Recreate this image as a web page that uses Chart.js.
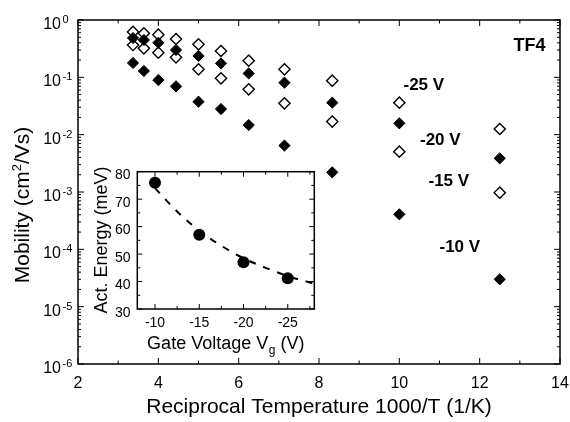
<!DOCTYPE html>
<html><head><meta charset="utf-8">
<script src="https://cdn.jsdelivr.net/npm/chart.js@4"></script>
<style>
html,body{margin:0;padding:0;background:#fff;}
#wrap{position:relative;width:570px;height:422px;overflow:hidden;}
#main{position:absolute;left:0;top:0;}
#inset{position:absolute;left:80px;top:160px;}
</style></head><body>
<div id="wrap"><canvas id="main" width="570" height="422"></canvas><canvas id="inset" width="250" height="200"></canvas></div>
<script>
// ---- data (main) ----
const invTemp = [3.37, 3.64, 4.0, 4.44, 5.0, 5.56, 6.25, 7.14, 8.33, 10.0, 12.5];
const mob25 = [0.62, 0.585, 0.554, 0.466, 0.377, 0.288, 0.195, 0.138, 0.0874, 0.0361, 0.01256];
const mob20 = [0.485, 0.448, 0.40, 0.30, 0.236, 0.175, 0.117, 0.0807, 0.0361, 0.0158, 0.00387];
const mob15 = [0.366, 0.321, 0.269, 0.223, 0.138, 0.096, 0.0618, 0.0352, 0.0169, 0.00505, 0.000972];
const mob10 = [0.178, 0.129, 0.0898, 0.0697, 0.0376, 0.028, 0.0147, 0.00645, 0.0022, 0.000408, 0.0000300];
const seriesLabels = ['-25 V', '-20 V', '-15 V', '-10 V'];
const xTickVals = [2, 4, 6, 8, 10, 12, 14];
const xTickLabels = ['2', '4', '6', '8', '10', '12', '14'];
const yTickExps = [0, -1, -2, -3, -4, -5, -6];
const yTickExpLabels = ['0', '-1', '-2', '-3', '-4', '-5', '-6'];
// ---- data (inset) ----
const gateV = [-10, -15, -20, -25];
const actEnergy = [76, 57, 47, 41.2];
const fitV = [-10, -12.5, -15, -17.5, -20, -22.5, -25, -28];
const fitE = [74, 65.5, 58.5, 53, 48.5, 45, 42, 39.2];
const insetXTicks = [-10, -15, -20, -25];
const insetXTickLabels = ['-10', '-15', '-20', '-25'];
const insetYTicks = [30, 40, 50, 60, 70, 80];

const FONT = '"Liberation Sans", Arial, Helvetica, sans-serif';
function pts(xs, ys){ return xs.map((x,i)=>({x:x, y:ys[i]})); }
function seg(ctx,x1,y1,x2,y2){ ctx.beginPath(); ctx.moveTo(x1,y1); ctx.lineTo(x2,y2); ctx.stroke(); }

const filled = {pointStyle:'rectRot', pointRadius:5.6, pointHoverRadius:5.6, backgroundColor:'#000', borderColor:'#000', pointBorderWidth:1, showLine:false};
const open = {pointStyle:'rectRot', pointRadius:5.6, pointHoverRadius:5.6, backgroundColor:'#fff', borderColor:'#000', pointBorderWidth:1.4, showLine:false};

const mainDeco = {
  id:'mainDeco',
  afterDraw(chart){
    const ctx = chart.ctx, a = chart.chartArea, xs = chart.scales.x, ys = chart.scales.y;
    ctx.save();
    ctx.strokeStyle = '#000'; ctx.fillStyle = '#000'; ctx.lineWidth = 1;
    for (let v = 2; v <= 14; v++) {
      const px = xs.getPixelForValue(v);
      const L = (v % 2 === 0) ? 6 : 3.5;
      seg(ctx, px, a.bottom, px, a.bottom - L);
      seg(ctx, px, a.top, px, a.top + L);
    }
    for (let e = -6; e <= 0; e++) {
      for (let m = 1; m <= 9; m++) {
        const val = m * Math.pow(10, e);
        if (val > 1.0000001) break;
        const py = ys.getPixelForValue(val);
        const L = (m === 1) ? 6 : 3;
        seg(ctx, a.left, py, a.left + L, py);
        seg(ctx, a.right, py, a.right - L, py);
      }
    }
    ctx.lineWidth = 1.5;
    ctx.strokeRect(a.left, a.top, a.right - a.left, a.bottom - a.top);
    // x tick labels
    ctx.font = '16px ' + FONT; ctx.textAlign = 'center'; ctx.textBaseline = 'alphabetic';
    xTickVals.forEach((v, i) => ctx.fillText(xTickLabels[i], xs.getPixelForValue(v), 388));
    // y tick labels 10^n
    yTickExps.forEach((e, i) => {
      const py = ys.getPixelForValue(Math.pow(10, e));
      ctx.font = '16px ' + FONT; ctx.textAlign = 'right';
      ctx.fillText('10', 61, py + 9);
      ctx.font = '11px ' + FONT; ctx.textAlign = 'left';
      ctx.fillText(yTickExpLabels[i], 62.5, py + 3);
    });
    // x title
    ctx.font = '21px ' + FONT; ctx.textAlign = 'center';
    ctx.fillText('Reciprocal Temperature 1000/T (1/K)', (a.left + a.right) / 2, 413);
    // y title with superscript
    ctx.save();
    ctx.translate(28.5, 205); ctx.rotate(-Math.PI / 2);
    ctx.textAlign = 'left';
    ctx.font = '21px ' + FONT;
    const p1 = 'Mobility (cm', p3 = '/Vs)';
    const w1 = ctx.measureText(p1).width, w3 = ctx.measureText(p3).width;
    ctx.font = '13px ' + FONT;
    const w2 = ctx.measureText('2').width;
    let sx = -(w1 + w2 + w3) / 2;
    ctx.font = '21px ' + FONT; ctx.fillText(p1, sx, 0); sx += w1;
    ctx.font = '13px ' + FONT; ctx.fillText('2', sx, -8); sx += w2;
    ctx.font = '21px ' + FONT; ctx.fillText(p3, sx, 0);
    ctx.restore();
    // annotations
    ctx.font = 'bold 18px ' + FONT; ctx.textAlign = 'right';
    ctx.fillText('TF4', 545.5, 50.7);
    ctx.font = 'bold 17px ' + FONT; ctx.textAlign = 'left';
    ctx.fillText(seriesLabels[0], 403.5, 89.5);
    ctx.fillText(seriesLabels[1], 420, 145);
    ctx.fillText(seriesLabels[2], 428.5, 186);
    ctx.fillText(seriesLabels[3], 439.5, 252.3);
    ctx.restore();
  }
};

new Chart(document.getElementById('main'), {
  type: 'scatter',
  data: { datasets: [
    Object.assign({label: seriesLabels[1], data: pts(invTemp, mob20)}, filled),
    Object.assign({label: seriesLabels[3], data: pts(invTemp, mob10)}, filled),
    Object.assign({label: seriesLabels[0], data: pts(invTemp, mob25)}, open),
    Object.assign({label: seriesLabels[2], data: pts(invTemp, mob15)}, open)
  ]},
  options: {
    responsive: false, animation: false, devicePixelRatio: 1,
    layout: { padding: { left: 78, right: 10, top: 20, bottom: 58 } },
    plugins: { legend: { display: false }, tooltip: { enabled: false } },
    scales: {
      x: { type: 'linear', display: false, min: 2, max: 14 },
      y: { type: 'logarithmic', display: false, min: 1e-6, max: 1 }
    }
  },
  plugins: [mainDeco]
});

const insetDeco = {
  id: 'insetDeco',
  beforeDatasetsDraw(chart){
    const ctx = chart.ctx, a = chart.chartArea;
    ctx.save(); ctx.fillStyle = '#fff';
    ctx.fillRect(a.left, a.top, a.right - a.left, a.bottom - a.top);
    ctx.restore();
  },
  afterDraw(chart){
    const ctx = chart.ctx, a = chart.chartArea, xs = chart.scales.x, ys = chart.scales.y;
    ctx.save();
    ctx.strokeStyle = '#000'; ctx.fillStyle = '#000'; ctx.lineWidth = 1;
    for (let v = -27.5; v <= -10; v += 2.5) {
      const px = xs.getPixelForValue(v);
      const L = (v % 5 === 0) ? 5 : 3;
      seg(ctx, px, a.bottom, px, a.bottom - L);
      seg(ctx, px, a.top, px, a.top + L);
    }
    for (let v = 30; v <= 80; v += 5) {
      const py = ys.getPixelForValue(v);
      const L = (v % 10 === 0) ? 5 : 3;
      seg(ctx, a.left, py, a.left + L, py);
      seg(ctx, a.right, py, a.right - L, py);
    }
    ctx.lineWidth = 1.5;
    ctx.strokeRect(a.left, a.top, a.right - a.left, a.bottom - a.top);
    ctx.font = '14px ' + FONT; ctx.textBaseline = 'alphabetic';
    ctx.textAlign = 'center';
    insetXTicks.forEach((v, i) => ctx.fillText(insetXTickLabels[i], xs.getPixelForValue(v), 166.7));
    ctx.textAlign = 'right';
    insetYTicks.forEach(v => ctx.fillText(String(v), 50.5, ys.getPixelForValue(v) + 7.5));
    // x title with subscript
    ctx.textAlign = 'left';
    ctx.font = '18px ' + FONT;
    const q1 = 'Gate Voltage V', q3 = ' (V)';
    const w1 = ctx.measureText(q1).width, w3 = ctx.measureText(q3).width;
    ctx.font = '12px ' + FONT;
    const w2 = ctx.measureText('g').width;
    let sx = 145.5 - (w1 + w2 + w3) / 2;
    ctx.font = '18px ' + FONT; ctx.fillText(q1, sx, 189.3); sx += w1;
    ctx.font = '12px ' + FONT; ctx.fillText('g', sx + 0.5, 194); sx += w2 + 0.5;
    ctx.font = '18px ' + FONT; ctx.fillText(q3, sx, 189.3);
    // y title
    ctx.save();
    ctx.translate(26.7, 80); ctx.rotate(-Math.PI / 2);
    ctx.textAlign = 'center'; ctx.font = '18px ' + FONT;
    ctx.fillText('Act. Energy (meV)', 0, 0);
    ctx.restore();
    ctx.restore();
  }
};

new Chart(document.getElementById('inset'), {
  type: 'scatter',
  data: { datasets: [
    { label: 'Activation energy', data: pts(gateV, actEnergy), pointStyle: 'circle', pointRadius: 6, pointHoverRadius: 6,
      backgroundColor: '#000', borderColor: '#000', pointBorderWidth: 0, showLine: false },
    { label: 'Fit', data: pts(fitV, fitE), showLine: true, pointRadius: 0, borderColor: '#000', borderWidth: 2,
      borderDash: [7, 8], cubicInterpolationMode: 'monotone', fill: false }
  ]},
  options: {
    responsive: false, animation: false, devicePixelRatio: 1,
    layout: { padding: { left: 57.3, right: 15.7, top: 11.7, bottom: 51 } },
    plugins: { legend: { display: false }, tooltip: { enabled: false } },
    scales: {
      x: { type: 'linear', display: false, min: -28, max: -8, reverse: true },
      y: { type: 'linear', display: false, min: 30, max: 80 }
    }
  },
  plugins: [insetDeco]
});
</script>
</body></html>
